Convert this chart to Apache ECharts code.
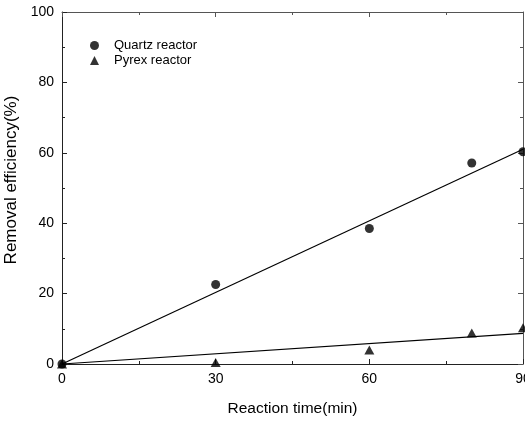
<!DOCTYPE html>
<html>
<head>
<meta charset="utf-8">
<script src="https://cdn.jsdelivr.net/npm/echarts@6/dist/echarts.min.js"></script>
<style>
  html, body { margin: 0; padding: 0; background: #fff; }
  #chart { width: 525px; height: 421px; }
</style>
</head>
<body>
<div id="chart"></div>
<script>
// Reaction time (min) and removal efficiency (%) for the two reactors
const times = [0, 30, 60, 80, 90];
const quartzValues = [0, 22.6, 38.5, 57.1, 60.3];
const pyrexValues = [0, 0.4, 4.0, 8.8, 10.3];

// Linear fits through the origin, drawn across the full time range
const fitTimes = [0, 90];
const quartzFit = [0, 61.0];
const pyrexFit = [0, 8.7];

const xTicks = [0, 30, 60, 90];
const yTicks = [0, 20, 40, 60, 80, 100];

const font = '"Liberation Sans", Arial, sans-serif';
const axisColor = '#222';
const frameColor = '#555';

const pairs = (xs, ys) => xs.map((x, i) => [x, ys[i]]);

const chart = echarts.init(document.getElementById('chart'), null, { renderer: 'canvas' });

function axisStyle(color) {
  return {
    axisLine: { show: true, onZero: false, lineStyle: { color: color, width: 1 } },
    axisTick: { show: true, inside: true, length: 5, lineStyle: { color: color } },
    minorTick: { show: true, splitNumber: 2, length: 3, lineStyle: { color: color } },
    splitLine: { show: false }
  };
}

chart.setOption({
  animation: false,
  backgroundColor: '#fff',
  textStyle: { fontFamily: font },
  // The plot box runs almost to the right edge; the last tick label is allowed to run off the canvas.
  grid: { left: 62, right: 2, top: 12, bottom: 57, containLabel: false, outerBoundsMode: 'none' },
  legend: {
    orient: 'vertical',
    left: 85,
    top: 34,
    itemGap: 2,
    itemWidth: 9,
    itemHeight: 9,
    textStyle: { fontFamily: font, fontSize: 13, lineHeight: 13, color: '#000', padding: [0, 0, 0, 10] },
    data: [
      { name: 'Quartz reactor', icon: 'circle' },
      { name: 'Pyrex reactor', icon: 'triangle' }
    ]
  },
  xAxis: [
    Object.assign(axisStyle(axisColor), {
      type: 'value',
      position: 'bottom',
      min: xTicks[0],
      max: xTicks[xTicks.length - 1],
      interval: 30,
      name: 'Reaction time(min)',
      nameLocation: 'middle',
      nameGap: 37,
      nameTextStyle: { fontFamily: font, fontSize: 15.5, color: '#000' },
      axisLabel: { fontFamily: font, fontSize: 14, color: '#000', margin: 8 }
    }),
    Object.assign(axisStyle(frameColor), {
      type: 'value',
      position: 'top',
      min: xTicks[0],
      max: xTicks[xTicks.length - 1],
      interval: 30,
      axisLabel: { show: false }
    })
  ],
  yAxis: [
    Object.assign(axisStyle(axisColor), {
      type: 'value',
      position: 'left',
      min: yTicks[0],
      max: yTicks[yTicks.length - 1],
      interval: 20,
      name: 'Removal efficiency(%)',
      nameLocation: 'middle',
      nameGap: 36,
      nameTextStyle: { fontFamily: font, fontSize: 17, color: '#000', padding: [0, 0, 0, 16] },
      axisLabel: { fontFamily: font, fontSize: 14, color: '#000', margin: 8 }
    }),
    Object.assign(axisStyle(frameColor), {
      type: 'value',
      position: 'right',
      min: yTicks[0],
      max: yTicks[yTicks.length - 1],
      interval: 20,
      axisLabel: { show: false }
    })
  ],
  series: [
    {
      name: 'Quartz fit',
      type: 'line',
      data: pairs(fitTimes, quartzFit),
      showSymbol: false,
      symbol: 'none',
      lineStyle: { color: '#000', width: 1.2 },
      silent: true,
      z: 2
    },
    {
      name: 'Pyrex fit',
      type: 'line',
      data: pairs(fitTimes, pyrexFit),
      showSymbol: false,
      symbol: 'none',
      lineStyle: { color: '#000', width: 1.2 },
      silent: true,
      z: 2
    },
    {
      name: 'Quartz reactor',
      type: 'scatter',
      data: pairs(times, quartzValues),
      symbol: 'circle',
      symbolSize: 9,
      itemStyle: { color: '#000' },
      clip: false,
      z: 3
    },
    {
      name: 'Pyrex reactor',
      type: 'scatter',
      data: pairs(times, pyrexValues),
      symbol: 'triangle',
      symbolSize: [10, 9],
      itemStyle: { color: '#000' },
      clip: false,
      z: 3
    }
  ]
});
</script>
</body>
</html>
